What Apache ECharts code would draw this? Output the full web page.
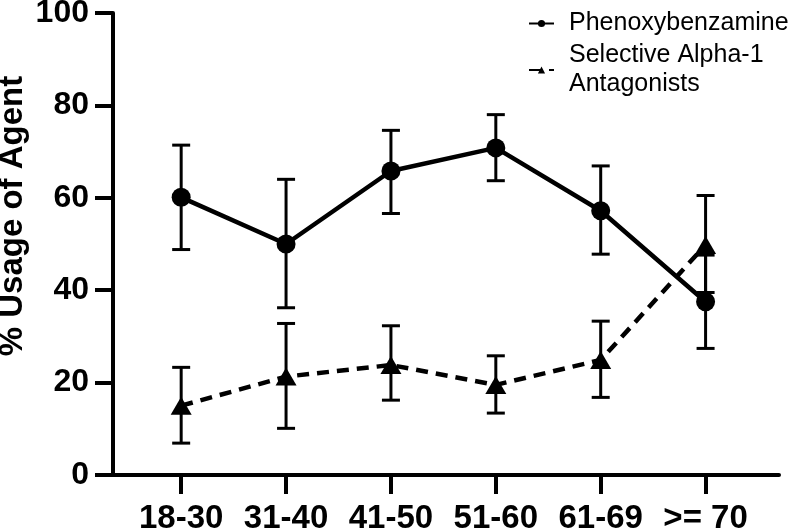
<!DOCTYPE html>
<html>
<head>
<meta charset="utf-8">
<script src="https://cdn.jsdelivr.net/npm/echarts@6/dist/echarts.min.js"></script>
<style>
html, body { margin: 0; padding: 0; background: #fff; }
#main { width: 791px; height: 532px; }
</style>
</head>
<body>
<div id="main"></div>
<script>
// age groups and % usage (mean with error range)
var categories = ['18-30', '31-40', '41-50', '51-60', '61-69', '>= 70'];
var phenoxyMean = [60.1, 50.0, 65.8, 70.8, 57.2, 37.5];
var phenoxyLow  = [48.8, 36.2, 56.6, 63.7, 47.8, 27.4];
var phenoxyHigh = [71.4, 64.0, 74.6, 78.0, 66.9, 47.6];
var alphaMean = [15.0, 21.3, 23.8, 19.5, 24.9, 49.8];
var alphaLow  = [6.9, 10.1, 16.2, 13.4, 16.8, 39.5];
var alphaHigh = [23.3, 32.8, 32.3, 25.8, 33.3, 60.5];
var catIndex = [0, 1, 2, 3, 4, 5];

var font = '"Liberation Sans", Arial, Helvetica, sans-serif';

function points(means) {
    return means.map(function (v, i) { return [i, v]; });
}
function ranges(lows, highs) {
    return lows.map(function (v, i) { return [i, v, highs[i]]; });
}

// whiskers with caps
function errorBars(params, api) {
    var x = api.value(0);
    var lo = api.coord([x, api.value(1)]);
    var hi = api.coord([x, api.value(2)]);
    var w = 9;
    var style = { stroke: '#000', lineWidth: 3 };
    return {
        type: 'group',
        children: [
            { type: 'line', shape: { x1: hi[0], y1: hi[1], x2: lo[0], y2: lo[1] }, style: style },
            { type: 'line', shape: { x1: hi[0] - w, y1: hi[1], x2: hi[0] + w, y2: hi[1] }, style: style },
            { type: 'line', shape: { x1: lo[0] - w, y1: lo[1], x2: lo[0] + w, y2: lo[1] }, style: style }
        ]
    };
}

var chart = echarts.init(document.getElementById('main'));
var option = {
    animation: false,
    textStyle: { fontFamily: font, color: '#000' },
    grid: {
        left: 113,
        right: 12,
        top: 13,
        bottom: 57,
        outerBoundsMode: 'none'
    },
    legend: {
        orient: 'vertical',
        left: 523,
        top: 4,
        itemWidth: 25,
        itemHeight: 9,
        itemGap: 3,
        data: ['Phenoxybenzamine', 'Selective Alpha-1 Antagonists'],
        formatter: function (name) {
            return name == 'Selective Alpha-1 Antagonists' ? 'Selective Alpha-1\nAntagonists' : name;
        },
        textStyle: {
            fontFamily: font,
            fontSize: 25,
            lineHeight: 29,
            color: '#000',
            padding: [0, 0, 0, 10]
        }
    },
    xAxis: {
        type: 'value',
        min: -0.65,
        max: 5.7,
        splitLine: { show: false },
        axisLine: { onZero: false, lineStyle: { color: '#000', width: 4 } },
        axisTick: {
            customValues: catIndex,
            length: 19,
            lineStyle: { color: '#000', width: 4 }
        },
        axisLabel: {
            customValues: catIndex,
            formatter: function (v) { return categories[v]; },
            fontFamily: font,
            fontSize: 33,
            fontWeight: 'bold',
            color: '#000',
            margin: 27
        }
    },
    yAxis: {
        type: 'value',
        min: 0,
        max: 100,
        interval: 20,
        name: '% Usage of Agent',
        nameLocation: 'middle',
        nameGap: 84,
        nameMoveOverlap: false,
        nameTextStyle: {
            fontFamily: font,
            fontSize: 33,
            fontWeight: 'bold',
            color: '#000',
            padding: [0, 0, 0, 56]
        },
        splitLine: { show: false },
        axisLine: { show: true, onZero: false, lineStyle: { color: '#000', width: 4 } },
        axisTick: {
            show: true,
            length: 18,
            lineStyle: { color: '#000', width: 4 }
        },
        axisLabel: {
            fontFamily: font,
            fontSize: 32,
            fontWeight: 'bold',
            color: '#000',
            margin: 24
        }
    },
    series: [
        {
            type: 'custom',
            renderItem: errorBars,
            encode: { x: 0, y: [1, 2] },
            data: ranges(phenoxyLow, phenoxyHigh),
            z: 1
        },
        {
            type: 'custom',
            renderItem: errorBars,
            encode: { x: 0, y: [1, 2] },
            data: ranges(alphaLow, alphaHigh),
            z: 1
        },
        {
            name: 'Phenoxybenzamine',
            type: 'line',
            data: points(phenoxyMean),
            symbol: 'circle',
            symbolSize: 19,
            itemStyle: { color: '#000' },
            lineStyle: { color: '#000', width: 4.5 },
            z: 3
        },
        {
            name: 'Selective Alpha-1 Antagonists',
            type: 'line',
            data: points(alphaMean),
            symbol: 'triangle',
            symbolSize: [21, 18],
            itemStyle: { color: '#000' },
            lineStyle: { color: '#000', width: 4.5, type: [12, 8] },
            z: 3
        }
    ]
};
chart.setOption(option);
</script>
</body>
</html>
